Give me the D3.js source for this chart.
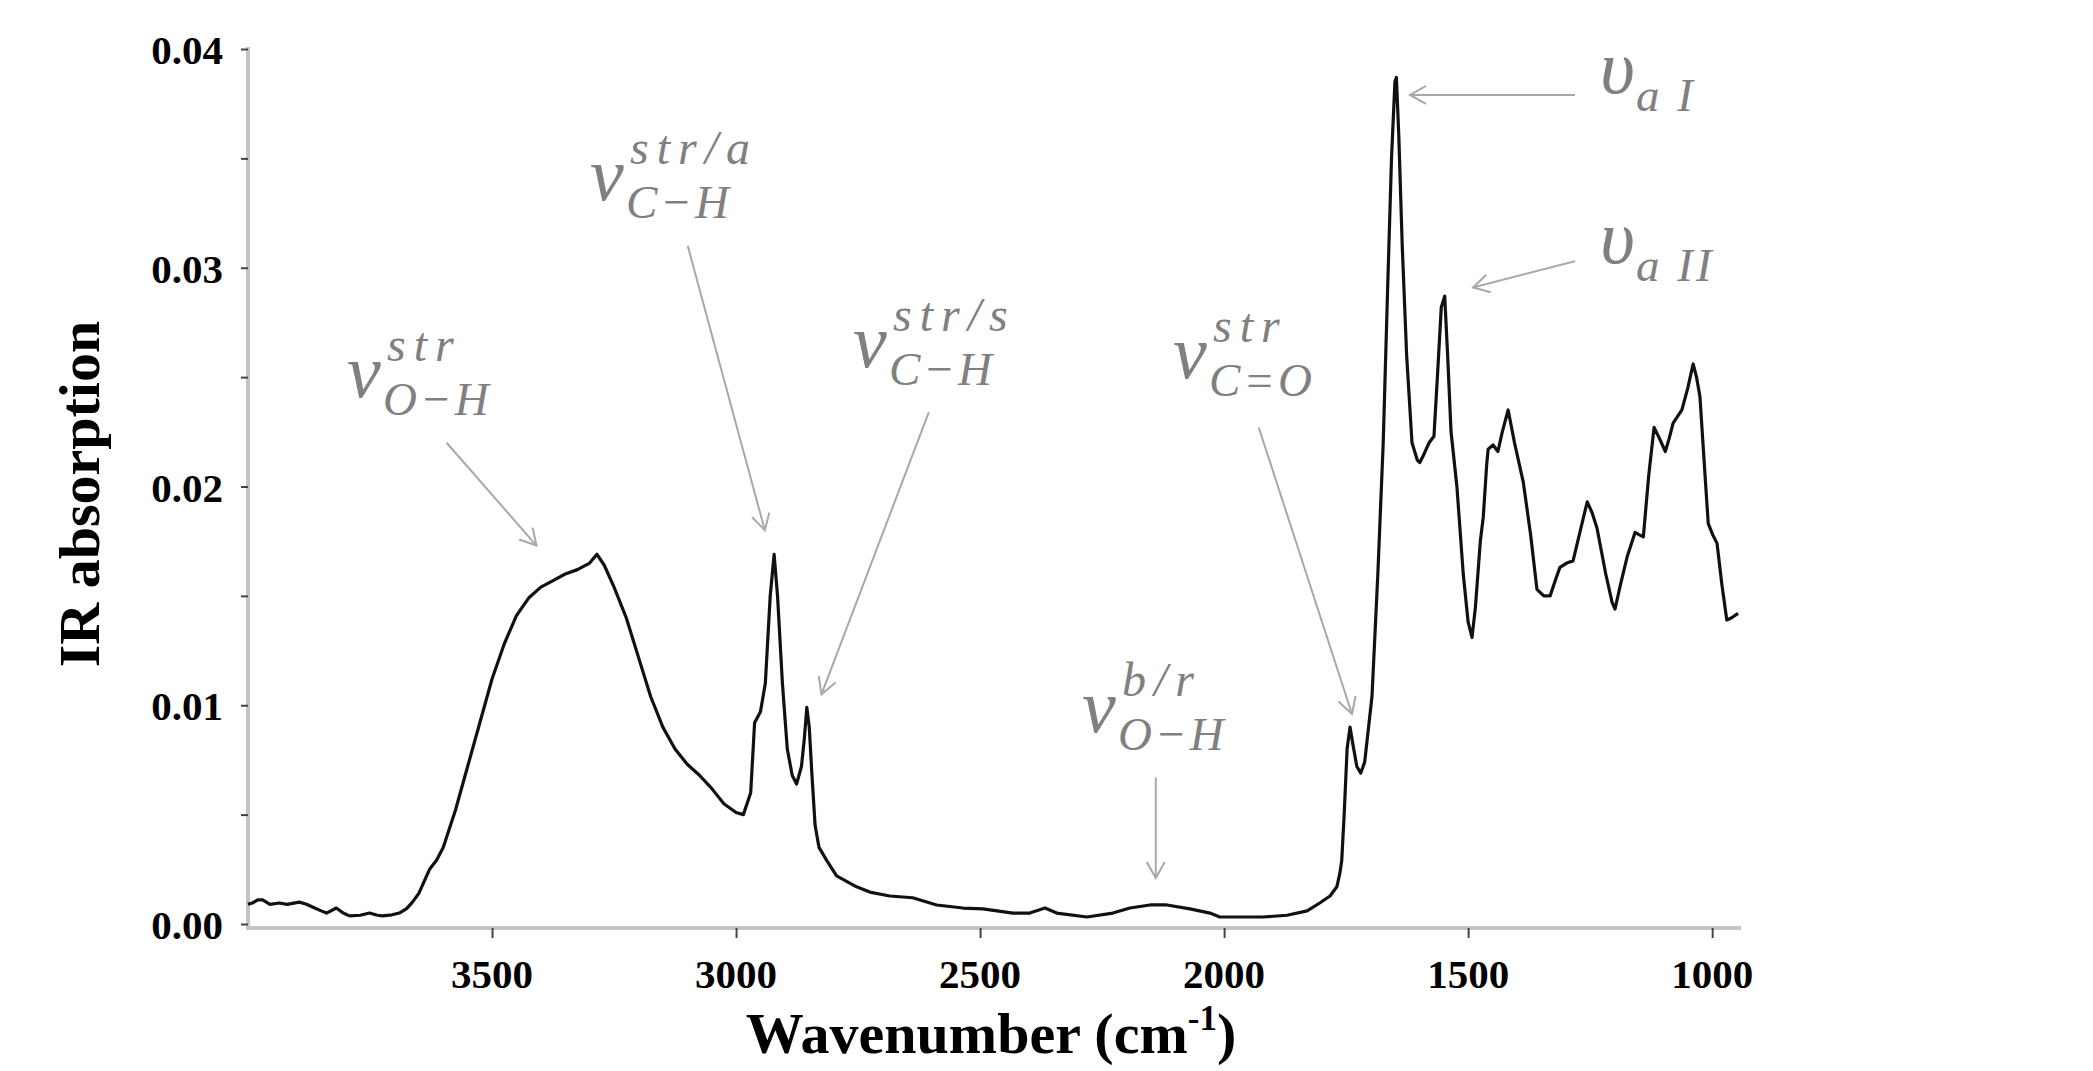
<!DOCTYPE html>
<html>
<head>
<meta charset="utf-8">
<script src="https://cdn.jsdelivr.net/npm/d3@7"></script>
<style>
  body { margin: 0; background: #fff; }
  text { font-family: "Liberation Serif", "Times New Roman", serif; }
</style>
</head>
<body>
<svg id="chart" width="2093" height="1071"></svg>
<script>
// spectrum (cm-1, absorbance)
var wavenumber = [4000,3991,3980,3970,3955,3936,3920,3895,3880,3868,3850,3839,3819,3805,3792,3770,3751,3735,3724,3705,3690,3675,3663,3650,3642,3628,3614,
  3600,3575,3550,3525,3500,3475,3450,3425,3400,3375,3350,3325,3300,3285,3270,3250,3225,3200,3175,3150,3125,3100,3075,3050,3025,3000,2985,
  2970,2962,2950,2940,2930,2922,2915,2905,2895,2885,2876,2866,2860,2855,2850,2845,2838,2830,2814,2794,2753,2726,2685,2638,2589,2535,2494,
  2433,2398,2367,2343,2281,2228,2193,2152,2117,2070,2029,2009,1988,1920,1871,1830,1804,1783,1769,1763,1759,1754,1748,1742,1736,1728,1720,
  1712,1704,1697,1685,1674,1665,1657,1650,1647,1642,1635,1626,1615,1604,1599,1590,1580,1570,1563,1555,1548,1542,1535,1523,1510,1500,1492,
  1485,1475,1469,1462,1459,1449,1439,1430,1418,1405,1387,1372,1359,1345,1332,1320,1312,1298,1285,1270,1256,1246,1236,1218,1205,1199,1188,
  1174,1158,1150,1141,1130,1119,1108,1096,1088,1080,1062,1050,1039,1032,1025,1016,1008,999,990,980,970,960,947];
var absorbance = [0.0009,0.00096,0.0011,0.0011,0.0009,0.00096,0.0009,0.001,0.0009,0.00078,0.0006,0.0005,0.00073,0.0005,0.00037,0.0004,0.0005,0.0004,0.00037,0.00042,0.0005,0.0007,0.001,0.0014,0.0018,0.0025,0.0029,
  0.0035,0.0052,0.0072,0.0092,0.0112,0.0128,0.0141,0.0149,0.0154,0.0157,0.016,0.0162,0.0165,0.0169,0.0164,0.0154,0.014,0.0122,0.0104,0.009,0.008,0.0073,0.0068,0.0062,0.0055,0.0051,0.005,
  0.006,0.0092,0.0097,0.011,0.015,0.0169,0.015,0.011,0.008,0.0068,0.0064,0.0072,0.0085,0.0099,0.009,0.007,0.0045,0.0035,0.0029,0.0022,0.0017,0.00146,0.00128,0.0012,0.00087,0.00073,0.00069,
  0.0005,0.0005,0.00073,0.0005,0.00032,0.0005,0.00073,0.00087,0.00087,0.00069,0.0005,0.00032,0.00032,0.00032,0.0004,0.0006,0.00096,0.00128,0.0017,0.0023,0.0029,0.005,0.008,0.009,0.0082,0.0072,0.0069,
  0.0074,0.009,0.0104,0.016,0.022,0.029,0.035,0.0385,0.0387,0.036,0.031,0.026,0.022,0.0212,0.0211,0.0215,0.022,0.0223,0.025,0.0282,0.0287,0.026,0.0225,0.02,0.016,0.0138,0.0131,
  0.0145,0.0175,0.0186,0.021,0.0217,0.0219,0.0216,0.0225,0.0235,0.022,0.0202,0.0178,0.0153,0.015,0.015,0.0158,0.0163,0.0165,0.0166,0.018,0.0193,0.0188,0.0181,0.016,0.0147,0.0144,0.0155,
  0.0168,0.0179,0.0178,0.0177,0.0205,0.0227,0.0222,0.0216,0.0222,0.0229,0.0235,0.0245,0.0256,0.025,0.0241,0.021,0.0183,0.0178,0.0174,0.0155,0.0139,0.014,0.0142];

var xTicks = [3500, 3000, 2500, 2000, 1500, 1000];
var yTicks = [0, 0.01, 0.02, 0.03, 0.04];

// peak labels: symbol, superscript, subscript, arrow (from -> to, in data units)
var annotations = [
  {base: "ν", sup: "str",   sub: "O−H", lx: 347,  ly: 397, from: [3593, 0.0220], to: [3409, 0.0173]},
  {base: "ν", sup: "str/a", sub: "C−H", lx: 590,  ly: 200, from: [3099, 0.0310], to: [2941, 0.0180]},
  {base: "ν", sup: "str/s", sub: "C−H", lx: 853,  ly: 367, from: [2605, 0.0234], to: [2825, 0.0105]},
  {base: "ν", sup: "str",   sub: "C=O", lx: 1173, ly: 378, from: [1929, 0.0227], to: [1738, 0.0096]},
  {base: "ν", sup: "b/r",   sub: "O−H", lx: 1082, ly: 732, from: [2140, 0.0067], to: [2140, 0.0021]},
  {base: "υ", sup: "",      sub: "a I", lx: 1600, ly: 93,  from: [1281, 0.0379], to: [1619, 0.0379]},
  {base: "υ", sup: "",      sub: "a II", lx: 1600, ly: 263, from: [1281, 0.0303], to: [1490, 0.0291]}
];

var svg = d3.select("#chart");

var x = d3.scaleLinear().domain([4000, 945]).range([248, 1739]);
var y = d3.scaleLinear().domain([0, 0.04]).range([924, 49]);

// axis lines (grey, thick)
svg.append("line")
  .attr("x1", 248).attr("x2", 248).attr("y1", 47).attr("y2", 929)
  .attr("stroke", "#c4c4c4").attr("stroke-width", 4);
svg.append("line")
  .attr("x1", 246).attr("x2", 1741).attr("y1", 928).attr("y2", 928)
  .attr("stroke", "#c4c4c4").attr("stroke-width", 4);

// x ticks
var xMinor = d3.range(3900, 945, -100);
var gx = svg.append("g").attr("transform", "translate(0,928)");
gx.call(d3.axisBottom(x).tickValues(xMinor).tickSize(5).tickFormat(""));
gx.call(d3.axisBottom(x).tickValues(xTicks).tickSize(10).tickFormat(""));
gx.select(".domain").remove();
gx.selectAll("line").attr("stroke", "#444").attr("stroke-width", 2);

svg.append("g").selectAll("text")
  .data(xTicks).enter().append("text")
  .attr("x", function(d) { return x(d); })
  .attr("y", 988)
  .attr("text-anchor", "middle")
  .attr("font-size", 41)
  .attr("font-weight", "bold")
  .text(function(d) { return d; });

// y ticks
var yMinor = d3.range(0, 0.04001, 0.00125);
var yMid = d3.range(0, 0.04001, 0.005);
var gy = svg.append("g").attr("transform", "translate(248,0)");
gy.call(d3.axisLeft(y).tickValues(yMinor).tickSize(4).tickFormat(""));
gy.call(d3.axisLeft(y).tickValues(yMid).tickSize(7).tickFormat(""));
gy.select(".domain").remove();
gy.selectAll("line").attr("stroke", "#444").attr("stroke-width", 2);

svg.append("g").selectAll("text")
  .data(yTicks).enter().append("text")
  .attr("x", 223)
  .attr("y", function(d) { return y(d) + 15; })
  .attr("text-anchor", "end")
  .attr("font-size", 41)
  .attr("font-weight", "bold")
  .text(function(d) { return d.toFixed(2); });

// axis titles
svg.append("text")
  .attr("transform", "translate(99,494) rotate(-90)")
  .attr("text-anchor", "middle")
  .attr("font-size", 58)
  .attr("font-weight", "bold")
  .text("IR absorption");

var xt = svg.append("text")
  .attr("x", 991).attr("y", 1053)
  .attr("text-anchor", "middle")
  .attr("font-size", 58)
  .attr("font-weight", "bold");
xt.append("tspan").text("Wavenumber (cm");
xt.append("tspan").attr("font-size", 35).attr("dy", -23).text("-1");
xt.append("tspan").attr("dy", 23).text(")");

// spectrum
var pts = wavenumber.map(function(w, i) { return [w, absorbance[i]]; });
var line = d3.line()
  .x(function(d) { return x(d[0]); })
  .y(function(d) { return y(d[1]); });

svg.append("path")
  .datum(pts)
  .attr("d", line)
  .attr("fill", "none")
  .attr("stroke", "#111")
  .attr("stroke-width", 3.2)
  .attr("stroke-linejoin", "round");

// arrows + labels
svg.append("defs").append("marker")
  .attr("id", "head")
  .attr("viewBox", "0 0 20 20")
  .attr("refX", 18).attr("refY", 10)
  .attr("markerWidth", 20).attr("markerHeight", 20)
  .attr("markerUnits", "userSpaceOnUse")
  .attr("orient", "auto")
  .append("path")
  .attr("d", "M2,1 L18,10 L2,19")
  .attr("fill", "none")
  .attr("stroke", "#a8a8a8")
  .attr("stroke-width", 2);

var ann = svg.append("g").selectAll("g")
  .data(annotations).enter().append("g");

ann.append("line")
  .attr("x1", function(d) { return x(d.from[0]); })
  .attr("y1", function(d) { return y(d.from[1]); })
  .attr("x2", function(d) { return x(d.to[0]); })
  .attr("y2", function(d) { return y(d.to[1]); })
  .attr("stroke", "#a8a8a8")
  .attr("stroke-width", 2)
  .attr("marker-end", "url(#head)");

ann.append("text")
  .attr("x", function(d) { return d.lx; })
  .attr("y", function(d) { return d.ly; })
  .attr("font-size", 76)
  .attr("font-style", "italic")
  .attr("fill", "#808080")
  .text(function(d) { return d.base; });

ann.append("text")
  .attr("x", function(d) { return d.lx + 40; })
  .attr("y", function(d) { return d.ly - 36; })
  .attr("font-size", 48)
  .attr("font-style", "italic")
  .attr("letter-spacing", 8)
  .attr("fill", "#808080")
  .text(function(d) { return d.sup; });

ann.append("text")
  .attr("x", function(d) { return d.lx + 36; })
  .attr("y", function(d) { return d.ly + 18; })
  .attr("font-size", 47)
  .attr("font-style", "italic")
  .attr("letter-spacing", 3)
  .attr("fill", "#808080")
  .text(function(d) { return d.sub; });
</script>
</body>
</html>
